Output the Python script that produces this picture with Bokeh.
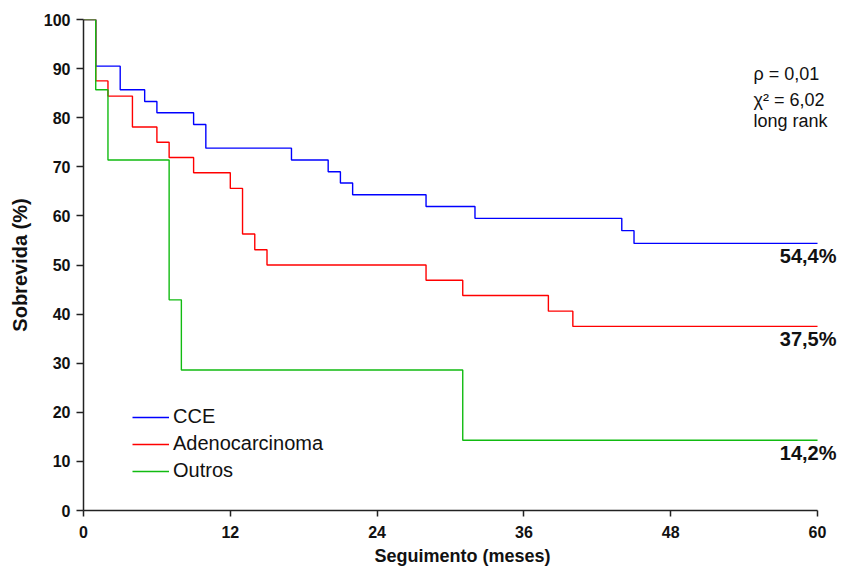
from bokeh.plotting import figure
from bokeh.models import Range1d, Label, Legend, LegendItem, FixedTicker
from bokeh.embed import file_html
from bokeh.resources import INLINE

# Kaplan-Meier data (months, survival %)
cce_t = [0, 1, 3, 5, 6, 9, 10, 17, 20, 21, 22, 28, 32, 44, 45, 60]
cce_s = [100, 90.5, 85.7, 83.3, 81.0, 78.6, 73.8, 71.4, 69.0, 66.7, 64.3, 61.9, 59.5, 57.0, 54.4, 54.4]

adeno_t = [0, 1, 2, 4, 6, 7, 9, 12, 13, 14, 15, 28, 31, 38, 40, 60]
adeno_s = [100, 87.5, 84.4, 78.1, 75.0, 71.9, 68.8, 65.6, 56.3, 53.1, 50.0, 46.9, 43.8, 40.6, 37.5, 37.5]

outros_t = [0, 1, 2, 7, 8, 31, 60]
outros_s = [100, 85.7, 71.4, 42.9, 28.6, 14.3, 14.3]

series_names = ["CCE", "Adenocarcinoma", "Outros"]
series_colors = ["#0000FF", "#FF0000", "#11BB11"]
final_labels = ["54,4%", "37,5%", "14,2%"]
final_values = [54.4, 37.5, 14.3]

x_ticks = [0, 12, 24, 36, 48, 60]
y_ticks = [0, 10, 20, 30, 40, 50, 60, 70, 80, 90, 100]

FONT = "Liberation Sans"

p = figure(width=841, height=569, output_backend="svg", toolbar_location=None,
           x_range=Range1d(0, 61.96), y_range=Range1d(0, 100),
           min_border_left=83, min_border_right=0, min_border_top=19, min_border_bottom=59)
p.outline_line_color = None
p.grid.visible = False
p.background_fill_color = "white"
p.border_fill_color = "white"

for ax in (p.xaxis[0], p.yaxis[0]):
    ax.axis_line_color = "#222222"
    ax.axis_line_width = 1.5
    ax.major_tick_line_color = "#222222"
    ax.major_tick_line_width = 1.5
    ax.minor_tick_line_color = None
    ax.major_tick_in = 0
    ax.major_label_text_font = FONT
    ax.major_label_text_font_style = "bold"
    ax.major_label_text_font_size = "16px"
    ax.major_label_text_color = "#111111"
    ax.axis_label_text_font = FONT
    ax.axis_label_text_font_style = "bold"
    ax.axis_label_text_color = "#111111"

p.xaxis.bounds = (0, 60)
p.xaxis.ticker = FixedTicker(ticks=x_ticks)
p.yaxis.ticker = FixedTicker(ticks=y_ticks)
p.xaxis.major_tick_out = 6
p.yaxis.major_tick_out = 7
p.xaxis.major_label_standoff = 9
p.yaxis.major_label_standoff = 6
p.xaxis.axis_label = "Seguimento (meses)"
p.yaxis.axis_label = "Sobrevida (%)"
p.xaxis.axis_label_text_font_size = "18px"
p.yaxis.axis_label_text_font_size = "20px"
p.xaxis.axis_label_standoff = 5
p.yaxis.axis_label_standoff = 10

renderers = []
for t, s, c in zip([cce_t, adeno_t, outros_t], [cce_s, adeno_s, outros_s], series_colors):
    r = p.step(t, s, mode="after", line_color=c, line_width=1.4)
    renderers.append(r)

legend = Legend(items=[LegendItem(label=n, renderers=[r]) for n, r in zip(series_names, renderers)],
                location=(49, 28), orientation="vertical")
legend.background_fill_alpha = 0
legend.border_line_color = None
legend.padding = 0
legend.margin = 0
legend.spacing = 4
legend.glyph_width = 37
legend.label_standoff = 4
legend.label_text_font = FONT
legend.label_text_font_size = "20px"
legend.label_text_color = "#111111"
p.add_layout(legend, "center")

for lab, v in zip(final_labels, final_values):
    p.add_layout(Label(x=60, y=v, text=lab, text_align="right", text_baseline="top",
                       x_offset=19, y_offset=-2, text_font=FONT, text_font_style="bold",
                       text_font_size="20px", text_color="#111111"))

stats = ["\u03c1 = 0,01", "\u03c7\u00b2 = 6,02", "long rank"]
stat_y = [88.9, 83.6, 79.4]
for txt, yv in zip(stats, stat_y):
    p.add_layout(Label(x=54.77, y=yv, text=txt, text_align="left", text_baseline="alphabetic",
                       text_font=FONT, text_font_size="18px", text_color="#111111"))

open("out.html", "w").write(file_html(p, INLINE))
